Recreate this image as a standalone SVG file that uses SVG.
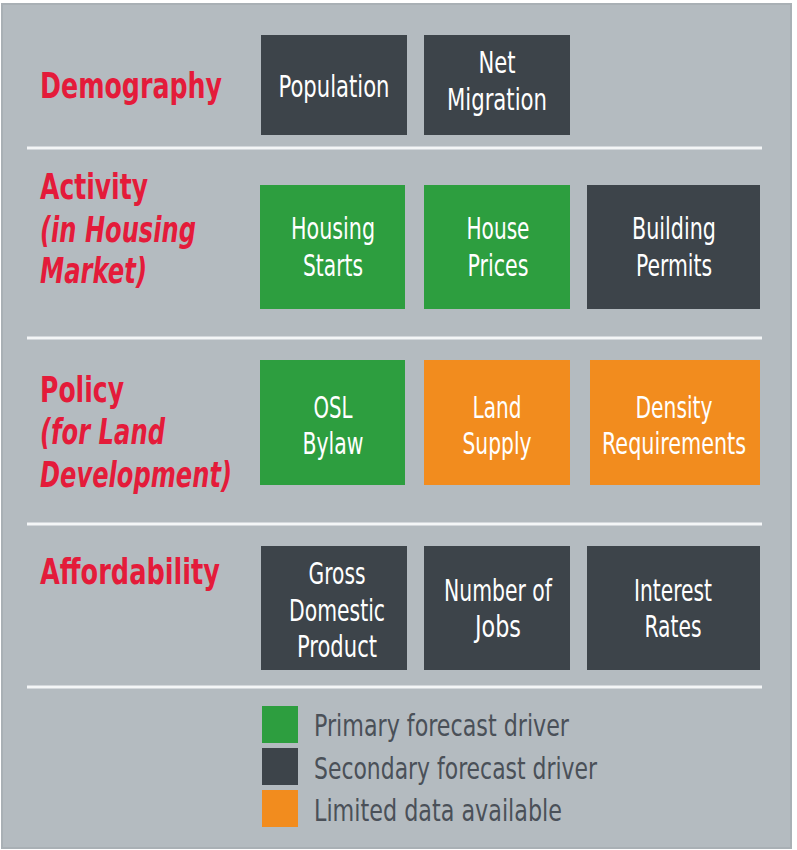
<svg xmlns="http://www.w3.org/2000/svg" width="797" height="850" viewBox="0 0 797 850">
<style>
.lbl{font-family:"DejaVu Sans Condensed","DejaVu Sans",sans-serif;font-weight:bold;font-size:35px;fill:#e41b3a}
.it{font-style:italic}
.bt{font-family:"DejaVu Sans Condensed","DejaVu Sans",sans-serif;font-size:30px;fill:#ffffff;text-anchor:middle}
.lg{font-family:"DejaVu Sans Condensed","DejaVu Sans",sans-serif;font-size:30px;fill:#4a5058}
.dark{fill:#3d444a}
.green{fill:#2d9e3f}
.orange{fill:#f28c1e}
.sep{stroke:#f4f6f7;stroke-width:3}
</style>
<rect x="0" y="0" width="797" height="850" fill="#ffffff"/>
<rect x="2" y="4" width="789" height="844" fill="#b4bbc0" stroke="#a9b0b5" stroke-width="2"/>
<g id="separators">
<line class="sep" x1="27" y1="148" x2="762" y2="148"/>
<line class="sep" x1="27" y1="338" x2="762" y2="338"/>
<line class="sep" x1="27" y1="524" x2="762" y2="524"/>
<line class="sep" x1="27" y1="687" x2="762" y2="687"/>
</g>
<g id="labels">
<text class="lbl" x="40" y="98" textLength="182" lengthAdjust="spacingAndGlyphs">Demography</text>
<text class="lbl" x="40" y="199" textLength="108" lengthAdjust="spacingAndGlyphs">Activity</text>
<text class="lbl it" x="40" y="242" textLength="156" lengthAdjust="spacingAndGlyphs">(in Housing</text>
<text class="lbl it" x="40" y="283" textLength="107" lengthAdjust="spacingAndGlyphs">Market)</text>
<text class="lbl" x="40" y="402" textLength="84" lengthAdjust="spacingAndGlyphs">Policy</text>
<text class="lbl it" x="40" y="444" textLength="125" lengthAdjust="spacingAndGlyphs">(for Land</text>
<text class="lbl it" x="40" y="487" textLength="192" lengthAdjust="spacingAndGlyphs">Development)</text>
<text class="lbl" x="40" y="584" textLength="180" lengthAdjust="spacingAndGlyphs">Affordability</text>
</g>
<g id="population"><rect class="dark" x="261" y="35" width="146" height="100"/>
<text class="bt" x="334" y="97" textLength="111" lengthAdjust="spacingAndGlyphs">Population</text></g>
<g id="net-migration"><rect class="dark" x="424" y="35" width="146" height="100"/>
<text class="bt" x="497" y="73" textLength="37" lengthAdjust="spacingAndGlyphs">Net</text>
<text class="bt" x="497" y="110" textLength="100" lengthAdjust="spacingAndGlyphs">Migration</text></g>
<g id="housing-starts"><rect class="green" x="260" y="185" width="145" height="124"/>
<text class="bt" x="333" y="239" textLength="84" lengthAdjust="spacingAndGlyphs">Housing</text>
<text class="bt" x="333" y="276" textLength="60" lengthAdjust="spacingAndGlyphs">Starts</text></g>
<g id="house-prices"><rect class="green" x="424" y="185" width="146" height="124"/>
<text class="bt" x="498" y="239" textLength="63" lengthAdjust="spacingAndGlyphs">House</text>
<text class="bt" x="498" y="276" textLength="61" lengthAdjust="spacingAndGlyphs">Prices</text></g>
<g id="building-permits"><rect class="dark" x="587" y="185" width="173" height="124"/>
<text class="bt" x="674" y="239" textLength="84" lengthAdjust="spacingAndGlyphs">Building</text>
<text class="bt" x="674" y="276" textLength="76" lengthAdjust="spacingAndGlyphs">Permits</text></g>
<g id="osl-bylaw"><rect class="green" x="260" y="360" width="145" height="125"/>
<text class="bt" x="333" y="418" textLength="39" lengthAdjust="spacingAndGlyphs">OSL</text>
<text class="bt" x="333" y="454" textLength="61" lengthAdjust="spacingAndGlyphs">Bylaw</text></g>
<g id="land-supply"><rect class="orange" x="424" y="360" width="146" height="125"/>
<text class="bt" x="497" y="418" textLength="49" lengthAdjust="spacingAndGlyphs">Land</text>
<text class="bt" x="497" y="454" textLength="69" lengthAdjust="spacingAndGlyphs">Supply</text></g>
<g id="density-requirements"><rect class="orange" x="590" y="360" width="170" height="125"/>
<text class="bt" x="674" y="418" textLength="77" lengthAdjust="spacingAndGlyphs">Density</text>
<text class="bt" x="674" y="454" textLength="144" lengthAdjust="spacingAndGlyphs">Requirements</text></g>
<g id="gdp"><rect class="dark" x="261" y="546" width="146" height="124"/>
<text class="bt" x="337" y="584" textLength="57" lengthAdjust="spacingAndGlyphs">Gross</text>
<text class="bt" x="337" y="621" textLength="96" lengthAdjust="spacingAndGlyphs">Domestic</text>
<text class="bt" x="337" y="657" textLength="80" lengthAdjust="spacingAndGlyphs">Product</text></g>
<g id="number-of-jobs"><rect class="dark" x="424" y="546" width="146" height="124"/>
<text class="bt" x="498" y="601" textLength="108" lengthAdjust="spacingAndGlyphs">Number of</text>
<text class="bt" x="498" y="637" textLength="46" lengthAdjust="spacingAndGlyphs">Jobs</text></g>
<g id="interest-rates"><rect class="dark" x="587" y="546" width="173" height="124"/>
<text class="bt" x="673" y="601" textLength="78" lengthAdjust="spacingAndGlyphs">Interest</text>
<text class="bt" x="673" y="637" textLength="57" lengthAdjust="spacingAndGlyphs">Rates</text></g>
<g id="legend">
<rect class="green" x="262" y="706" width="36" height="37"/>
<rect class="dark" x="262" y="748" width="36" height="37"/>
<rect class="orange" x="262" y="790" width="36" height="37"/>
<text class="lg" x="314" y="736" textLength="255" lengthAdjust="spacingAndGlyphs">Primary forecast driver</text>
<text class="lg" x="314" y="779" textLength="283" lengthAdjust="spacingAndGlyphs">Secondary forecast driver</text>
<text class="lg" x="314" y="821" textLength="248" lengthAdjust="spacingAndGlyphs">Limited data available</text>
</g>
</svg>
